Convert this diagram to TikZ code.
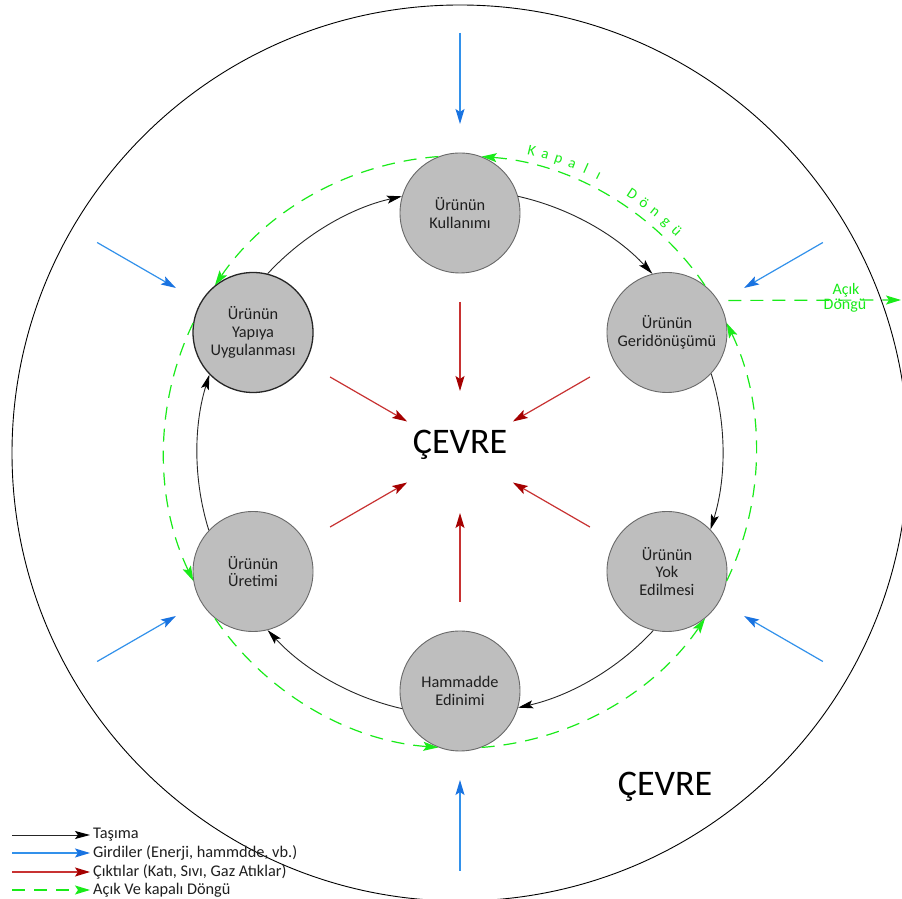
\documentclass[tikz,border=0pt]{standalone}
\usepackage{fontspec}
\setmainfont{Carlito}
\usetikzlibrary{arrows.meta,calc}
\definecolor{bline}{RGB}{50,145,235}
\definecolor{bhead}{RGB}{25,115,225}
\definecolor{rline}{RGB}{200,50,50}
\definecolor{rhead}{RGB}{165,0,0}
\definecolor{dgreen}{RGB}{25,235,25}
\definecolor{nfill}{RGB}{190,190,190}
\definecolor{nedge}{RGB}{105,105,105}
\begin{document}
\begin{tikzpicture}[x=1pt,y=1pt,
  proc/.style={circle, draw=nedge, fill=nfill, line width=0.9pt, minimum size=120pt,
    inner sep=0pt, align=center, font=\fontsize{16.3}{17.8}\selectfont, text=black!88},
  tas/.style={draw=black!85, line width=0.9pt, -{Stealth[length=15pt,width=8pt,inset=3pt,color=black]}},
  gr/.style={draw=dgreen, line width=1.2pt, dash pattern=on 13pt off 9pt,
    -{Stealth[length=15pt,width=9pt,inset=3pt]}},
  inarr/.style={draw=bline, line width=1.2pt, -{Stealth[length=15pt,width=9pt,inset=3pt,color=bhead]}},
  outarr/.style={draw=rline, line width=1.2pt, -{Stealth[length=15pt,width=9pt,inset=3pt,color=rhead]}},
  lab/.style={font=\fontsize{16.3}{17.8}\selectfont, text=black!88, inner sep=0pt},
  glab/.style={font=\fontsize{16}{17.5}\selectfont, text=dgreen, inner sep=0pt},
  kd/.style={font=\fontsize{15}{16}\selectfont, text=dgreen, inner sep=0pt, anchor=base},
  big/.style={font=\fontsize{36}{40}\selectfont, text=black, inner sep=0pt}
]
\useasboundingbox (0,0) rectangle (902,899);
\fill[white] (0,0) rectangle (902,899);

% outer environment circle
\draw[black, line width=0.9pt] (460,446) circle[radius=448];

\begin{scope}[shift={(460,447)}]
  % process nodes
  \node[proc] (K) at (90:239) {Ürünün\\Kullanımı};
  \node[proc] (G) at (30:239) {Ürünün\\Geridönüşümü};
  \node[proc] (D) at (-30:239) {Ürünün\\Yok\\Edilmesi};
  \node[proc] (H) at (-90:239) {Hammadde\\Edinimi};
  \node[proc] (U) at (-150:239) {Ürünün\\Üretimi};
  \node[proc, draw=black!85, line width=1.3pt] (Y) at (150:239) {Ürünün\\Yapıya\\Uygulanması};

  \node[big] (cevre) at (0,7) {ÇEVRE};

  % transport arcs (clockwise)
  \foreach \s/\t/\a in {K/G/90, G/D/30, D/H/-30, H/U/-90, U/Y/-150, Y/K/150}{
    \draw[tas] (\s.{\a-73.9}) to[out=\a-102.7, in=\a+42.7, looseness=0.87] (\t.{\a+14});
  }
  % closed loop (counter-clockwise)
  \foreach \s/\t/\a in {G/K/30, K/Y/90, Y/U/150, U/H/210, H/D/270, D/G/330}{
    \draw[gr] (\s.{\a+21}) to[out=\a+94.3, in=\a-34.3, looseness=0.895] (\t.{\a+39});
  }

  % inputs and outputs
  \foreach \a [count=\i] in {90,30,-30,-90,-150,150}{
    \coordinate (bi\i) at (\a:419);
    \coordinate (bo\i) at (\a:328);
    \draw[inarr] (bi\i) -- (bo\i);
    \coordinate (ri\i) at (\a:150);
    \coordinate (ro\i) at (\a:61);
    \draw[outarr] (ri\i) -- (ro\i);
  }

  % Kapalı Döngü lettering
  \foreach \a/\l [count=\i] in {76.6/K, 74.0/a, 71.4/p, 68.7/a, 66.0/l, 63.4/ı, 56.2/D, 53.5/ö, 50.9/n, 48.2/g, 45.6/ü}{
    \node[kd, rotate=\a-90] (kd\i) at (\a:305) {\l};
  }
\end{scope}

% open loop
\coordinate (acikend) at (901,599);
\draw[gr] ([xshift=10pt]G.32) -- (acikend);
\node[glab] (acik1) at (846,609) {Açık};
\node[glab] (acik2) at (845,593) {Döngü};

\node[big] (cevre2) at (665,112) {ÇEVRE};

% legend
\coordinate (l1a) at (12,64);  \coordinate (l1b) at (90,64);
\coordinate (l2a) at (12,46);  \coordinate (l2b) at (90,46);
\coordinate (l3a) at (12,27);  \coordinate (l3b) at (90,27);
\coordinate (l4a) at (12,9);   \coordinate (l4b) at (90,9);
\draw[tas] (l1a) -- (l1b);
\draw[inarr] (l2a) -- (l2b);
\draw[outarr] (l3a) -- (l3b);
\draw[gr] (l4a) -- (l4b);
\node[lab, anchor=west] (t1) at (93,64) {Taşıma};
\node[lab, anchor=west] (t2) at (93,46) {Girdiler (Enerji, hammdde, vb.)};
\node[lab, anchor=west] (t3) at (93,27) {Çıktılar (Katı, Sıvı, Gaz Atıklar)};
\node[lab, anchor=west] (t4) at (93,9) {Açık Ve kapalı Döngü};
\end{tikzpicture}
\end{document}
